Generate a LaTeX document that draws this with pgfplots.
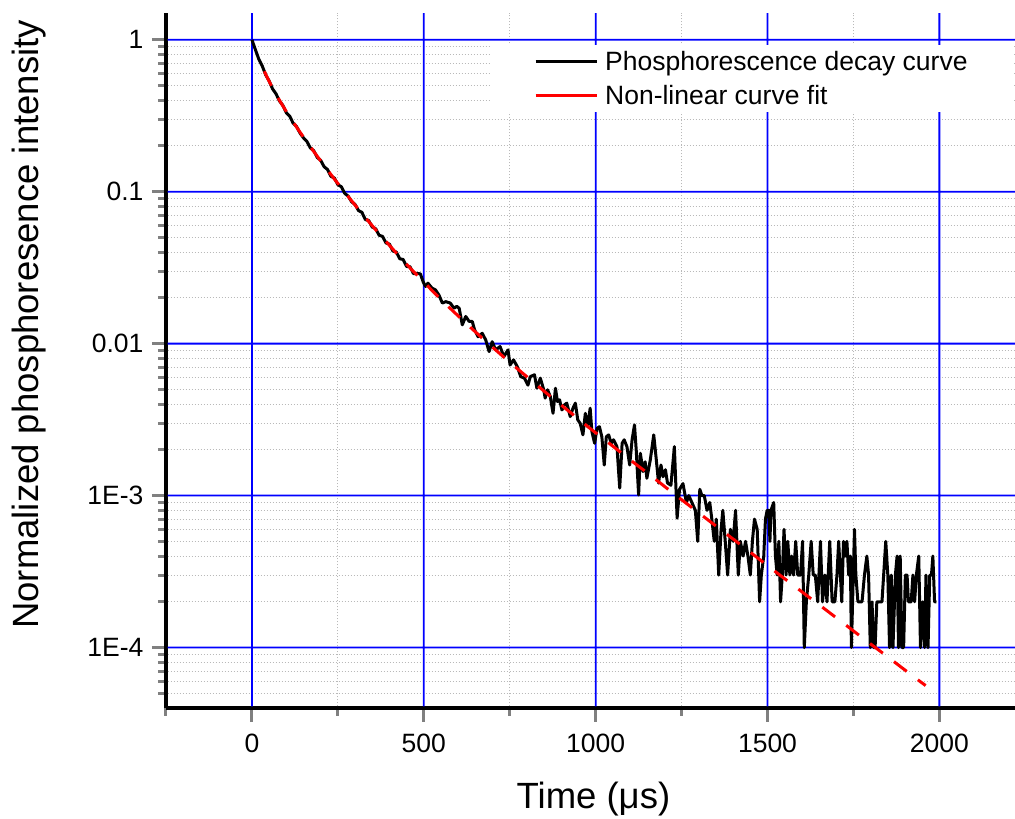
\documentclass[border=0pt]{standalone}
\usepackage{fontspec}
\setmainfont{Liberation Sans}
\usepackage{pgfplots}
\pgfplotsset{compat=1.18}
\definecolor{gblue}{RGB}{0,0,255}
\definecolor{ggray}{RGB}{185,185,185}
\begin{document}
\begin{tikzpicture}
\begin{axis}[
  scale only axis,
  width=849pt, height=695pt,
  ymode=log,
  xmin=-250, xmax=2220,
  ymin=4e-5, ymax=1.5,
  axis x line*=bottom,
  axis y line*=left,
  axis line style={line width=3.5pt},
  xtick={0,500,1000,1500,2000},
  xticklabels={0,500,1000,1500,2000},
  minor xtick={-250,250,750,1250,1750},
  ytick={1e-4,1e-3,1e-2,1e-1,1},
  yticklabels={1E-4,1E-3,0.01,0.1,1},
  minor ytick={5e-5,6e-5,7e-5,8e-5,9e-5,2e-4,3e-4,4e-4,5e-4,6e-4,7e-4,8e-4,9e-4,2e-3,3e-3,4e-3,5e-3,6e-3,7e-3,8e-3,9e-3,0.02,0.03,0.04,0.05,0.06,0.07,0.08,0.09,0.2,0.3,0.4,0.5,0.6,0.7,0.8,0.9},
  tick align=outside,
  major tick length=14pt,
  minor tick length=8pt,
  tick style={line width=3pt},
  grid=none,
  tick label style={font=\fontsize{26.5}{31}\selectfont},
  yticklabel style={xshift=-5pt},
  xticklabel style={yshift=-9pt},
  label style={font=\fontsize{36.5}{43}\selectfont},
  xlabel={Time (μs)},
  ylabel={Normalized phosphoresence intensity},
  xlabel style={at={(axis description cs:0.5035,-0.131)}, anchor=center},
  ylabel style={at={(axis description cs:-0.161,0.552)}, anchor=center},
  legend style={at={(axis description cs:0.3816,0.954)}, anchor=north west, draw=none, fill=white,
    font=\fontsize{26.5}{31}\selectfont, inner xsep=44pt, inner ysep=4pt, row sep=9pt,
    /tikz/every odd column/.append style={column sep=5pt}},
  legend cell align=left,
]
% minor grid (dotted grey)
\draw[ggray, line width=1pt, dash pattern=on 1pt off 2pt]
  (axis cs:250,4.1e-5) -- (axis cs:250,1.5)
  (axis cs:750,4.1e-5) -- (axis cs:750,1.5)
  (axis cs:1250,4.1e-5) -- (axis cs:1250,1.5)
  (axis cs:1750,4.1e-5) -- (axis cs:1750,1.5)
  (axis cs:-245,5e-5) -- (axis cs:2220,5e-5)
  (axis cs:-245,6e-5) -- (axis cs:2220,6e-5)
  (axis cs:-245,7e-5) -- (axis cs:2220,7e-5)
  (axis cs:-245,8e-5) -- (axis cs:2220,8e-5)
  (axis cs:-245,9e-5) -- (axis cs:2220,9e-5)
  (axis cs:-245,2e-4) -- (axis cs:2220,2e-4)
  (axis cs:-245,3e-4) -- (axis cs:2220,3e-4)
  (axis cs:-245,4e-4) -- (axis cs:2220,4e-4)
  (axis cs:-245,5e-4) -- (axis cs:2220,5e-4)
  (axis cs:-245,6e-4) -- (axis cs:2220,6e-4)
  (axis cs:-245,7e-4) -- (axis cs:2220,7e-4)
  (axis cs:-245,8e-4) -- (axis cs:2220,8e-4)
  (axis cs:-245,9e-4) -- (axis cs:2220,9e-4)
  (axis cs:-245,2e-3) -- (axis cs:2220,2e-3)
  (axis cs:-245,3e-3) -- (axis cs:2220,3e-3)
  (axis cs:-245,4e-3) -- (axis cs:2220,4e-3)
  (axis cs:-245,5e-3) -- (axis cs:2220,5e-3)
  (axis cs:-245,6e-3) -- (axis cs:2220,6e-3)
  (axis cs:-245,7e-3) -- (axis cs:2220,7e-3)
  (axis cs:-245,8e-3) -- (axis cs:2220,8e-3)
  (axis cs:-245,9e-3) -- (axis cs:2220,9e-3)
  (axis cs:-245,0.02) -- (axis cs:2220,0.02)
  (axis cs:-245,0.03) -- (axis cs:2220,0.03)
  (axis cs:-245,0.04) -- (axis cs:2220,0.04)
  (axis cs:-245,0.05) -- (axis cs:2220,0.05)
  (axis cs:-245,0.06) -- (axis cs:2220,0.06)
  (axis cs:-245,0.07) -- (axis cs:2220,0.07)
  (axis cs:-245,0.08) -- (axis cs:2220,0.08)
  (axis cs:-245,0.09) -- (axis cs:2220,0.09)
  (axis cs:-245,0.2) -- (axis cs:2220,0.2)
  (axis cs:-245,0.3) -- (axis cs:2220,0.3)
  (axis cs:-245,0.4) -- (axis cs:2220,0.4)
  (axis cs:-245,0.5) -- (axis cs:2220,0.5)
  (axis cs:-245,0.6) -- (axis cs:2220,0.6)
  (axis cs:-245,0.7) -- (axis cs:2220,0.7)
  (axis cs:-245,0.8) -- (axis cs:2220,0.8)
  (axis cs:-245,0.9) -- (axis cs:2220,0.9);
% major grid (blue) as thin filled strips
\fill[gblue]
  (axis cs:0,4.1e-5) ++(-0.9pt,0pt) rectangle ++(1.8pt,694pt)
  (axis cs:500,4.1e-5) ++(-0.9pt,0pt) rectangle ++(1.8pt,694pt)
  (axis cs:1000,4.1e-5) ++(-0.9pt,0pt) rectangle ++(1.8pt,694pt)
  (axis cs:1500,4.1e-5) ++(-0.9pt,0pt) rectangle ++(1.8pt,694pt)
  (axis cs:2000,4.1e-5) ++(-0.9pt,0pt) rectangle ++(1.8pt,694pt)
  (axis cs:-245,1e-4) ++(0pt,-0.9pt) rectangle ++(850pt,1.8pt)
  (axis cs:-245,1e-3) ++(0pt,-0.9pt) rectangle ++(850pt,1.8pt)
  (axis cs:-245,0.01) ++(0pt,-0.9pt) rectangle ++(850pt,1.8pt)
  (axis cs:-245,0.1) ++(0pt,-0.9pt) rectangle ++(850pt,1.8pt)
  (axis cs:-245,1) ++(0pt,-0.9pt) rectangle ++(850pt,1.8pt);
\addplot[black, line width=3pt, line join=round,
  legend image code/.code={\draw[black,line width=3pt,solid] (0pt,0pt) -- (61pt,0pt);}]
coordinates {
(0,1.000) (10,0.862) (20,0.745) (30,0.672) (40,0.588) (50,0.536) (60,0.475) (70,0.441) (80,0.396) (90,0.370)
(100,0.331) (110,0.314) (120,0.282) (130,0.268) (140,0.243) (150,0.226) (160,0.214) (170,0.194) (180,0.186) (190,0.168)
(200,0.161) (210,0.146) (220,0.140) (230,0.126) (240,0.123) (250,0.111) (260,0.108) (270,0.0975) (280,0.0935) (290,0.0858)
(300,0.0825) (310,0.0752) (320,0.0731) (330,0.0655) (340,0.0645) (350,0.0585) (360,0.0571) (370,0.0517) (380,0.0508) (390,0.0460)
(400,0.0452) (410,0.0407) (420,0.0401) (430,0.0362) (440,0.0358) (450,0.0322) (460,0.0321) (470,0.0289) (480,0.0290) (490,0.0288)
(498,0.0256) (505,0.0238) (512,0.0250) (524,0.0232) (534,0.0226) (544,0.0209) (554,0.0185) (564,0.0189) (577,0.0185) (588,0.0171)
(596,0.0176) (603,0.0171) (612,0.0133) (622,0.0151) (632,0.0140) (641,0.0140) (648,0.0123) (658,0.0111) (670,0.0117) (680,0.0106)
(690,0.00887) (699,0.0103) (709,0.00910) (722,0.00957) (733,0.00822) (745,0.00910) (751,0.00724) (761,0.00782) (772,0.00706) (782,0.00607)
(793,0.00592) (803,0.00533) (810,0.00607) (822,0.00624) (829,0.00509) (839,0.00593) (849,0.00497) (853,0.00438) (860,0.00497) (868,0.00449)
(876,0.00348) (883,0.00509) (889,0.00416) (895,0.00427) (902,0.00366) (909,0.00395) (916,0.00406) (926,0.00331) (934,0.00376) (941,0.00406)
(948,0.00315) (955,0.00299) (963,0.00251) (970,0.00348) (977,0.00284) (984,0.00376) (989,0.00264) (997,0.00221) (1004,0.00277) (1011,0.00284)
(1018,0.00244) (1025,0.00159) (1031,0.00244) (1038,0.00251) (1045,0.00221) (1052,0.00233) (1062,0.00210) (1070,0.00112) (1077,0.00221) (1083,0.00233)
(1091,0.00210) (1099,0.00159) (1106,0.00233) (1113,0.00292) (1118,0.00200) (1125,0.00101) (1130,0.00190) (1138,0.00144) (1144,0.00167) (1149,0.00130)
(1159,0.00172) (1169,0.00251) (1176,0.00176) (1183,0.00121) (1190,0.00159) (1196,0.00133) (1203,0.00148) (1209,0.00121) (1219,0.00117) (1229,0.00210)
(1237,0.00071) (1244,0.0011) (1254,0.0012) (1264,0.0009) (1271,0.0010) (1280,0.0009) (1290,0.0008) (1297,0.0005) (1303,0.0011) (1309,0.0010)
(1316,0.0010) (1324,0.0008) (1332,0.0009) (1338,0.0007) (1345,0.0005) (1351,0.0007) (1358,0.0003) (1365,0.0006) (1370,0.0008) (1377,0.0005)
(1384,0.0003) (1392,0.0006) (1400,0.0005) (1407,0.0008) (1415,0.0003) (1421,0.0005) (1429,0.0004) (1436,0.0005) (1443,0.0004) (1450,0.0003)
(1456,0.0005) (1462,0.0007) (1470,0.0006) (1477,0.0002) (1482,0.0003) (1489,0.0004) (1494,0.0007) (1499,0.0008) (1504,0.0008) (1507,0.0005)
(1510,0.0008) (1518,0.0009) (1523,0.0004) (1528,0.0003) (1533,0.0005) (1538,0.0002) (1543,0.0003) (1548,0.0006) (1554,0.0003) (1559,0.0005)
(1565,0.0003) (1570,0.0004) (1576,0.0003) (1582,0.0005) (1588,0.0003) (1596,0.0003) (1602,0.0005) (1607,0.0001) (1613,0.0002) (1620,0.0003)
(1627,0.0005) (1633,0.0003) (1639,0.0003) (1646,0.0002) (1654,0.0005) (1660,0.0002) (1667,0.0003) (1673,0.0002) (1681,0.0005) (1688,0.0002)
(1696,0.0002) (1702,0.0003) (1707,0.0005) (1712,0.0003) (1716,0.0002) (1721,0.0005) (1726,0.0004) (1731,0.0005) (1736,0.0003) (1741,0.0004)
(1744,0.0001) (1753,0.0006) (1757,0.0003) (1763,0.0002) (1770,0.0002) (1775,0.0002) (1782,0.0003) (1789,0.0004) (1794,0.0003) (1799,0.0001)
(1804,0.0002) (1809,0.0001) (1813,0.0001) (1818,0.0002) (1825,0.0002) (1833,0.0002) (1844,0.0005) (1850,0.0003) (1855,0.0001) (1860,0.0003)
(1865,0.0001) (1872,0.0003) (1877,0.0004) (1881,0.0001) (1886,0.0004) (1891,0.0001) (1896,0.0001) (1901,0.0003) (1906,0.0003) (1910,0.0002)
(1918,0.0002) (1923,0.0003) (1928,0.0002) (1933,0.0003) (1940,0.0004) (1945,0.0001) (1951,0.0002) (1957,0.0001) (1961,0.0003) (1967,0.0001)
(1972,0.0003) (1977,0.0003) (1981,0.0004) (1986,0.0002) (1991,0.0002)
};
\addlegendentry{Phosphorescence decay curve}
\addplot[red, line width=3pt, dash pattern=on 16pt off 14pt, dash phase=16pt,
  legend image code/.code={\draw[red,line width=3pt,solid] (0pt,0pt) -- (61pt,0pt);}]
coordinates {
(20,0.7531) (40,0.5926) (60,0.4815) (80,0.3999) (100,0.3372) (120,0.2872) (140,0.2463) (160,0.2123) (180,0.1837) (200,0.1595)
(220,0.1388) (240,0.1211) (260,0.1060) (280,0.0929) (300,0.0817) (320,0.0720) (340,0.0635) (360,0.0562) (380,0.0499) (400,0.0444)
(420,0.0395) (440,0.0352) (460,0.0315) (480,0.0283) (500,0.0254) (540,0.0206) (580,0.0168) (620,0.0138) (660,0.0114) (700,0.00947)
(740,0.00789) (780,0.00661) (820,0.00555) (860,0.00466) (900,0.00394) (940,0.00333) (980,0.00281) (1020,0.00239) (1060,0.00203) (1100,0.00172)
(1140,0.00147) (1180,0.00125) (1220,0.00106) (1260,0.000903) (1300,0.00077) (1340,0.000656) (1380,0.00056) (1420,0.000478) (1460,0.000407) (1500,0.000346)
(1540,0.000295) (1580,0.000252) (1620,0.000215) (1660,0.000184) (1700,0.000157) (1740,0.000134) (1780,0.000114) (1820,0.0000976) (1860,0.0000833) (1900,0.0000711)
(1940,0.0000607) (1960,0.0000562)
};
\addlegendentry{Non-linear curve fit}
\end{axis}
\pgfresetboundingbox
\useasboundingbox (-166pt,-111pt) rectangle (849pt,708pt);
\end{tikzpicture}
\end{document}
